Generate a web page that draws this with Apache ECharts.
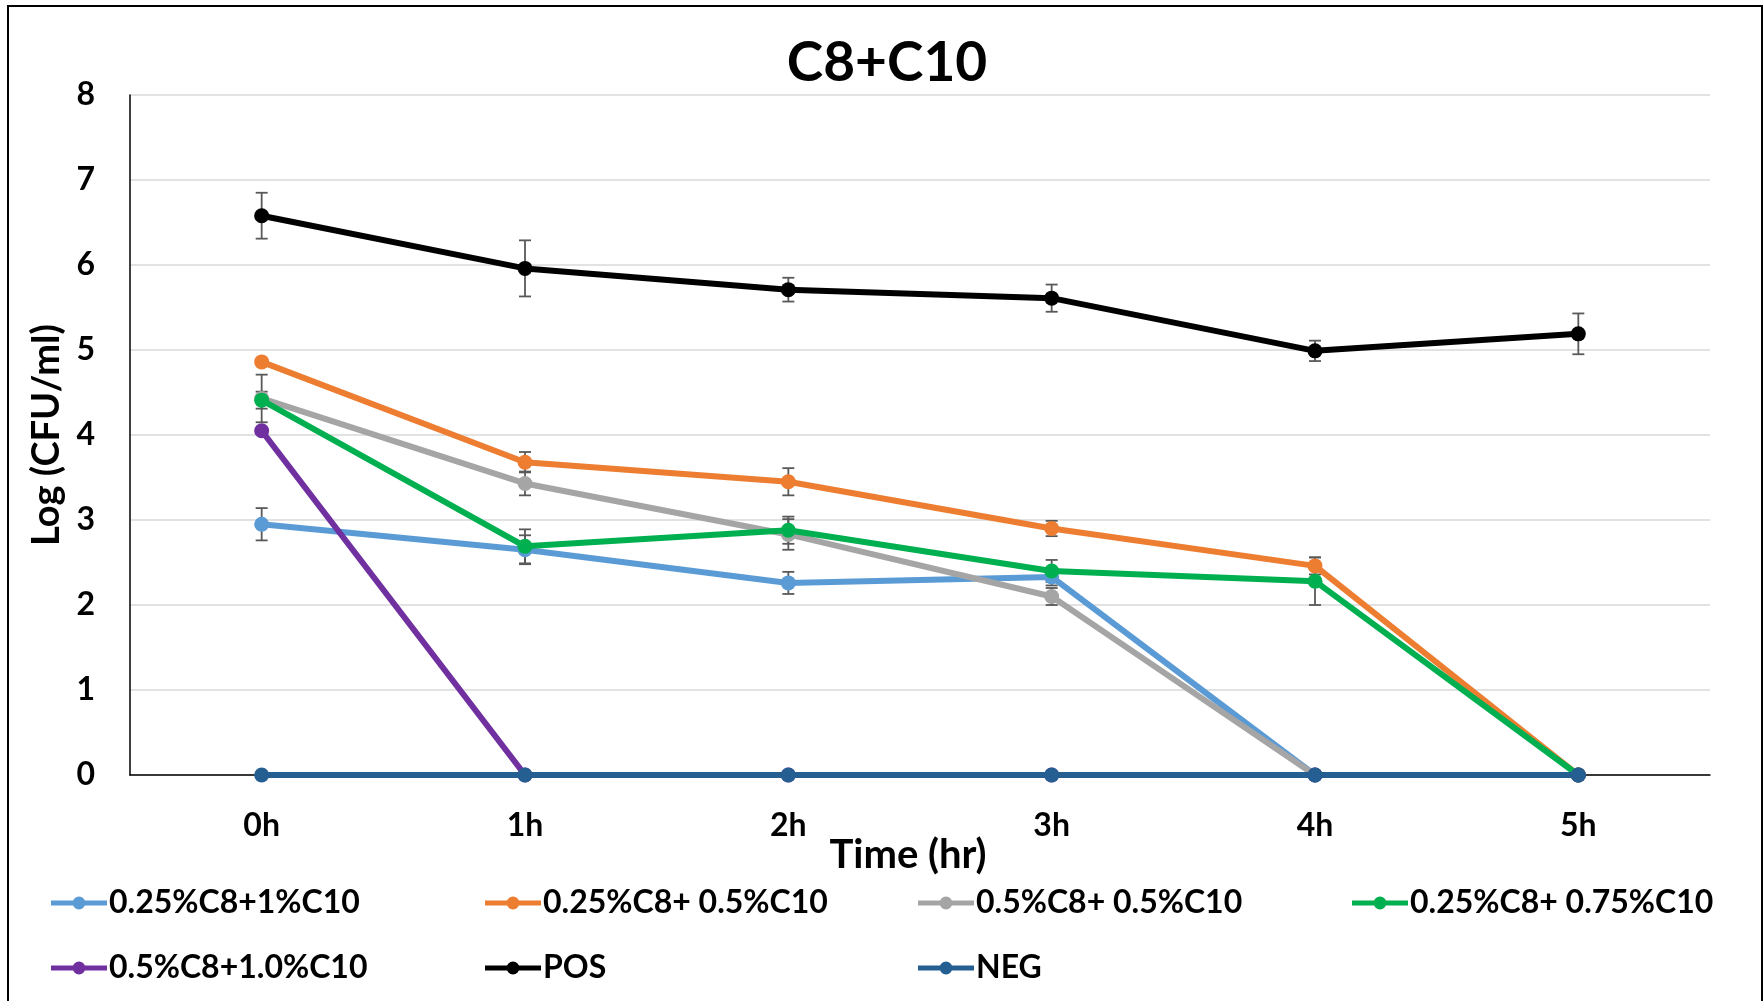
<!DOCTYPE html>
<html>
<head>
<meta charset="utf-8">
<script src="https://cdn.jsdelivr.net/npm/echarts@6/dist/echarts.min.js"></script>
<style>
  html, body { margin: 0; padding: 0; background: #fff; }
  #main { width: 1764px; height: 1001px; }
</style>
</head>
<body>
<div id="main"></div>
<script>
// 横轴时间点
var times = ['0h', '1h', '2h', '3h', '4h', '5h'];

// 各组平均值 Log(CFU/ml)
var c8_025_c10_1 = [2.95, 2.65, 2.26, 2.33, 0, 0];
var c8_025_c10_05 = [4.86, 3.68, 3.45, 2.90, 2.46, 0];
var c8_05_c10_05 = [4.43, 3.43, 2.83, 2.10, 0, 0];
var c8_025_c10_075 = [4.41, 2.69, 2.88, 2.40, 2.28, 0];
var c8_05_c10_10 = [4.05, 0, 0, 0, 0, 0];
var pos = [6.58, 5.96, 5.71, 5.61, 4.99, 5.19];
var neg = [0, 0, 0, 0, 0, 0];

// 误差（±）
var err_c8_025_c10_1 = [0.19, 0.17, 0.13, 0.10, 0, 0];
var err_c8_025_c10_05 = [0, 0.12, 0.16, 0.09, 0.10, 0];
var err_c8_05_c10_05 = [0.28, 0.14, 0.18, 0.10, 0, 0];
var err_c8_025_c10_075 = [0.10, 0.20, 0.16, 0.13, 0.28, 0];
var err_pos = [0.27, 0.33, 0.14, 0.16, 0.12, 0.24];

var names = ['0.25%C8+1%C10', '0.25%C8+ 0.5%C10', '0.5%C8+ 0.5%C10', '0.25%C8+ 0.75%C10',
             '0.5%C8+1.0%C10', 'POS', 'NEG'];
var colors = ['#5B9BD5', '#ED7D31', '#A5A5A5', '#00B050', '#7030A0', '#000000', '#255E91'];
var values = [c8_025_c10_1, c8_025_c10_05, c8_05_c10_05, c8_025_c10_075, c8_05_c10_10, pos, neg];
var errs = [err_c8_025_c10_1, err_c8_025_c10_05, err_c8_05_c10_05, err_c8_025_c10_075, null, err_pos, null];

var FONT = 'Lato';
// 图例图标：粗线 + 圆点
var legendIcon = 'path://M0,4H56V9H0Z M34.5,6.5A6.5,6.5,0,1,1,21.5,6.5A6.5,6.5,0,1,1,34.5,6.5Z';

function errorBar(params, api) {
    var i = api.value(0);
    var v = api.value(1);
    var e = api.value(2);
    var hi = api.coord([i, v + e]);
    var lo = api.coord([i, v - e]);
    var cap = 6;
    var style = { stroke: '#595959', lineWidth: 1.8 };
    return {
        type: 'group',
        children: [
            { type: 'line', shape: { x1: hi[0], y1: hi[1], x2: lo[0], y2: lo[1] }, style: style },
            { type: 'line', shape: { x1: hi[0] - cap, y1: hi[1], x2: hi[0] + cap, y2: hi[1] }, style: style },
            { type: 'line', shape: { x1: lo[0] - cap, y1: lo[1], x2: lo[0] + cap, y2: lo[1] }, style: style }
        ]
    };
}

var series = [];
var i;
for (i = 0; i < names.length; i++) {
    series.push({
        name: names[i],
        type: 'line',
        data: values[i],
        symbol: 'circle',
        symbolSize: 15,
        showAllSymbol: true,
        color: colors[i],
        lineStyle: { width: 6, color: colors[i] },
        itemStyle: { color: colors[i] },
        z: 2 + i * 0.01
    });
}
for (i = 0; i < names.length; i++) {
    if (!errs[i]) continue;
    var d = [];
    for (var j = 0; j < times.length; j++) {
        if (errs[i][j] > 0) d.push([j, values[i][j], errs[i][j]]);
    }
    series.push({
        type: 'custom',
        renderItem: errorBar,
        data: d,
        z: 1,
        silent: true,
        encode: { x: 0, y: 1 }
    });
}

var legendCols = [
    [names[0], names[4]],
    [names[1], names[5]],
    [names[2], names[6]],
    [names[3]]
];
var legendX = [46, 480, 913, 1347];
var legends = legendCols.map(function (col, k) {
    return {
        data: col,
        orient: 'vertical',
        left: legendX[k],
        top: 882,
        icon: legendIcon,
        itemWidth: 56,
        itemHeight: 13,
        itemGap: 33,
        textStyle: { fontFamily: FONT, fontWeight: 'bold', fontSize: 32, color: '#000', padding: [0, 0, 0, -3] }
    };
});

var chart = echarts.init(document.getElementById('main'));
chart.setOption({
    animation: false,
    backgroundColor: '#fff',
    title: {
        text: 'C8+C10',
        left: 882,
        top: 31,
        textAlign: 'center',
        textStyle: { fontFamily: FONT, fontWeight: 'bold', fontSize: 55, color: '#000' }
    },
    graphic: [{
        type: 'rect',
        shape: { x: 8, y: 6, width: 1754, height: 1000 },
        style: { fill: 'none', stroke: '#000', lineWidth: 2 },
        silent: true
    }],
    legend: legends,
    grid: { left: 130, right: 54, top: 95, bottom: 226 },
    xAxis: {
        type: 'category',
        data: times,
        boundaryGap: true,
        axisLine: { lineStyle: { color: '#000', width: 1.5 } },
        axisTick: { show: false },
        axisLabel: { fontFamily: FONT, fontWeight: 'bold', fontSize: 32, color: '#000', margin: 35 },
        name: 'Time (hr)',
        nameLocation: 'middle',
        nameGap: 60,
        nameMoveOverlap: false,
        nameTextStyle: { fontFamily: FONT, fontWeight: 'bold', fontSize: 40, color: '#000', padding: [0, 24, 0, 0] }
    },
    yAxis: {
        type: 'value',
        min: 0,
        max: 8,
        interval: 1,
        axisLine: { show: true, lineStyle: { color: '#000', width: 1.5 } },
        axisTick: { show: false },
        splitLine: { lineStyle: { color: '#D9D9D9', width: 1.5 } },
        axisLabel: { fontFamily: FONT, fontWeight: 'bold', fontSize: 32, color: '#000', margin: 35 },
        name: 'Log (CFU/ml)',
        nameLocation: 'middle',
        nameRotate: 90,
        nameGap: 64,
        nameMoveOverlap: false,
        nameTextStyle: { fontFamily: FONT, fontWeight: 'bold', fontSize: 38, color: '#000' }
    },
    series: series
});
</script>
</body>
</html>
